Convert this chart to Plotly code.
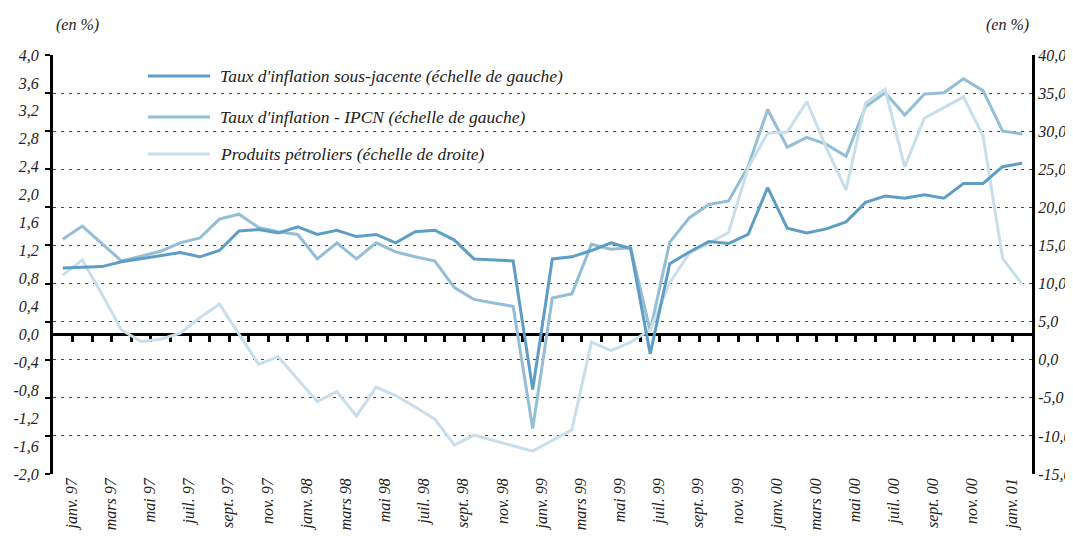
import plotly.graph_objects as go

# ---------------- data ----------------
mois = ["janv.", "févr.", "mars", "avr.", "mai", "juin", "juil.", "août",
        "sept.", "oct.", "nov.", "déc."]
annees = ["97", "98", "99", "00", "01"]
periodes = [f"{mois[m]} {annees[y]}" for y in range(5) for m in range(12)][:50]

sous_jacente = [0.95, 0.96, 0.97, 1.04, 1.08, 1.13, 1.17, 1.11, 1.20, 1.48,
                1.50, 1.45, 1.54, 1.43, 1.49, 1.40, 1.43, 1.31, 1.47, 1.49,
                1.35, 1.08, 1.06, 1.05, -0.79, 1.08, 1.11, 1.20, 1.31, 1.23,
                -0.28, 1.01, 1.18, 1.33, 1.30, 1.43, 2.10, 1.52, 1.45, 1.51,
                1.61, 1.89, 1.98, 1.95, 2.00, 1.95, 2.16, 2.16, 2.40, 2.45]

ipcn = [1.36, 1.55, 1.30, 1.05, 1.12, 1.19, 1.31, 1.38, 1.65, 1.72,
        1.53, 1.47, 1.43, 1.08, 1.31, 1.08, 1.31, 1.18, 1.11, 1.05,
        0.67, 0.50, 0.45, 0.40, -1.35, 0.52, 0.58, 1.29, 1.22, 1.24,
        0.05, 1.32, 1.67, 1.86, 1.91, 2.40, 3.22, 2.68, 2.82, 2.72,
        2.55, 3.26, 3.46, 3.14, 3.44, 3.46, 3.66, 3.49, 2.91, 2.87]

petroliers = [11.1, 13.1, 8.6, 3.9, 2.4, 2.7, 3.5, 5.5, 7.3, 3.4,
              -0.6, 0.4, -2.6, -5.5, -4.2, -7.4, -3.6, -4.7, -6.2, -7.8,
              -11.2, -9.9, -10.6, -11.3, -12.0, -10.6, -9.2, 2.3, 1.2, 2.3,
              3.9, 10.1, 14.0, 15.3, 16.7, 25.2, 29.75, 29.9, 33.9, 27.8,
              22.3, 33.7, 35.5, 25.3, 31.7, 33.1, 34.5, 29.4, 13.3, 9.9]

noms = ["Taux d'inflation sous-jacente (échelle de gauche)",
        "Taux d'inflation - IPCN (échelle de gauche)",
        "Produits pétroliers (échelle de droite)"]
couleurs = ["#5e9ec4", "#94bdd6", "#c8deeb"]

gauche_ticks = [round(-2 + 0.4 * k, 1) for k in range(16)]
droite_ticks = list(range(-15, 45, 5))

# ---------------- figure ----------------
FONT = "Liberation Serif"
n = len(periodes)
xs = list(range(n))
fmt = lambda v: (f"{v:.1f}").replace(".", ",")

fig = go.Figure()
fig.add_trace(go.Scatter(x=xs, y=petroliers, name=noms[2], mode="lines",
                         line=dict(color=couleurs[2], width=3), xaxis="x", yaxis="y2",
                         showlegend=False))
fig.add_trace(go.Scatter(x=xs, y=ipcn, name=noms[1], mode="lines",
                         line=dict(color=couleurs[1], width=3), xaxis="x", yaxis="y",
                         showlegend=False))
fig.add_trace(go.Scatter(x=xs, y=sous_jacente, name=noms[0], mode="lines",
                         line=dict(color=couleurs[0], width=3), xaxis="x2", yaxis="y",
                         showlegend=False))

tickfont = dict(family=FONT, size=16, color="#222", style="italic")
xr = [-0.5, n - 0.5]

fig.update_layout(
    width=1065, height=530,
    margin=dict(l=45, r=41, t=47, b=64, autoexpand=False),
    paper_bgcolor="white", plot_bgcolor="white",
    font=dict(family=FONT, size=16, color="#222", style="italic"),
    xaxis=dict(range=xr, domain=[0, 1], anchor="y", showline=False, showgrid=False,
               zeroline=False, ticks="", automargin=False,
               tickvals=[i + 0.45 for i in range(0, n, 2)],
               ticktext=[periodes[i] for i in range(0, n, 2)],
               tickangle=-90, tickfont=tickfont),
    xaxis2=dict(range=xr, overlaying="x", anchor="free", position=2 / 6,
                showline=True, linewidth=3, linecolor="black", showgrid=False,
                zeroline=False, ticks="outside", ticklen=6, tickwidth=2.5,
                tickcolor="black", tickvals=[i + 0.5 for i in range(n - 1)],
                showticklabels=False, layer="below traces", automargin=False),
    yaxis=dict(range=[-2, 4], domain=[0, 1], side="left", showline=True,
               linewidth=3, linecolor="black", showgrid=False, zeroline=False,
               ticks="", tickvals=gauche_ticks, automargin=False,
               ticklabelstandoff=8,
               ticktext=[fmt(v) for v in gauche_ticks], tickfont=tickfont,
               minor=dict(ticks="outside", ticklen=5, tickwidth=2, tickcolor="black",
                          tickvals=[-2 + k * 6 / 11 for k in range(12)], showgrid=False)),
    yaxis2=dict(range=[-15, 40], overlaying="y", side="right", anchor="x",
                showline=True, linewidth=3, linecolor="black", showgrid=True,
                gridcolor="#444", gridwidth=1, griddash="3px,5px", zeroline=False,
                ticks="", tickvals=droite_ticks,
                ticktext=[fmt(v) for v in droite_ticks],
                tickfont=tickfont, automargin=False),
)

# legend drawn manually
leg_y = [0.950, 0.852, 0.764]
for nom, c, yy in zip(noms, couleurs, leg_y):
    fig.add_shape(type="line", xref="paper", yref="paper", x0=0.097, x1=0.1604,
                  y0=yy, y1=yy, line=dict(color=c, width=3))
    fig.add_annotation(xref="paper", yref="paper", x=0.1685, y=yy, text=nom,
                       showarrow=False, xanchor="left", yanchor="middle",
                       font=dict(family=FONT, size=17.5, color="#222", style="italic"))

for xx in [0.0255, 0.9745]:
    fig.add_annotation(xref="paper", yref="paper", x=xx, y=1.0716, text="(en %)",
                       showarrow=False, xanchor="center", yanchor="middle",
                       font=dict(family=FONT, size=16, color="#222", style="italic"))

fig.write_html("out.html")
